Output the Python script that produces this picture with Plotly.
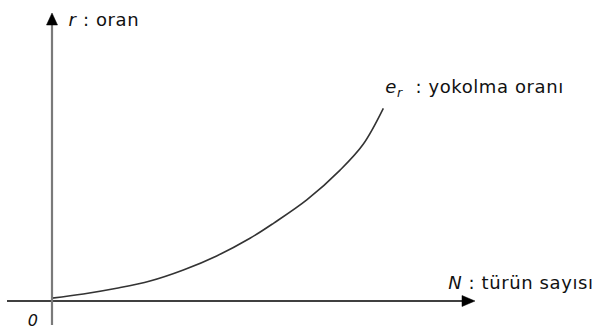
import plotly.graph_objects as go

# Curve values (N: species count, r: extinction rate), arbitrary units
N_values = [0, 0.95, 1.96, 2.97, 3.98, 4.99, 6.0, 6.71, 7.72, 8.73, 9.43, 10.04]
r_values = [0.15, 0.37, 0.67, 1.05, 1.63, 2.37, 3.3, 4.09, 5.32, 6.89, 8.25, 10.14]

x_label = "<i>N</i> : türün sayısı"
y_label = "<i>r</i> : oran"
curve_label = "<i>e</i><sub><i>r</i></sub>  : yokolma oranı"
origin_label = "<i>0</i>"

FONT = "DejaVu Sans"
fig = go.Figure()
fig.add_trace(go.Scatter(x=N_values, y=r_values, mode="lines",
                         line=dict(color="#333333", width=1.6, shape="spline", smoothing=1.0),
                         hoverinfo="skip", showlegend=False))

shapes = [
    # horizontal axis
    dict(type="line", xref="x", yref="y", x0=-1.364, y0=0, x1=12.45, y1=0,
         line=dict(color="black", width=1.4)),
    # vertical axis
    dict(type="line", xref="x", yref="y", x0=0, y0=-1.263, x1=0, y1=14.8,
         line=dict(color="#7a7a7a", width=2.2)),
    # arrow heads
    dict(type="path", xref="x", yref="y", xsizemode="pixel", ysizemode="pixel",
         xanchor=12.818, yanchor=0, path="M0,0 L-13,5.5 L-13,-5.5 Z",
         fillcolor="black", line=dict(color="black", width=0.5)),
    dict(type="path", xref="x", yref="y", xsizemode="pixel", ysizemode="pixel",
         xanchor=0, yanchor=15.158, path="M0,0 L-5.5,-12 L5.5,-12 Z",
         fillcolor="black", line=dict(color="black", width=0.5)),
]

annotations = [
    dict(x=0.52, y=14.84, text=y_label, xanchor="left", yanchor="middle"),
    dict(x=10.2, y=11.21, text=curve_label, xanchor="left", yanchor="middle"),
    dict(x=12.1, y=1.0, text=x_label, xanchor="left", yanchor="middle"),
    dict(x=-0.8, y=-1.0, text=origin_label, xanchor="left", yanchor="middle",
         font_size=16),
]
for a in annotations:
    a.update(xref="x", yref="y", showarrow=False)
    a["font"] = dict(family=FONT, size=a.pop("font_size", 18), color="#111111")

fig.update_layout(
    width=599, height=331,
    margin=dict(l=0, r=0, t=0, b=0),
    paper_bgcolor="white", plot_bgcolor="white",
    xaxis=dict(range=[-1.5758, 16.5758], visible=False, fixedrange=True),
    yaxis=dict(range=[-1.5789, 15.842], visible=False, fixedrange=True),
    shapes=shapes, annotations=annotations, showlegend=False,
)
post = (
    "document.body.style.margin='0px';document.body.style.overflow='hidden';"
    "document.querySelectorAll('.annotation-text').forEach(function(e){"
    "e.style.letterSpacing='0.6px';});"
)
fig.write_html("out.html", config={"displayModeBar": False}, post_script=post)
